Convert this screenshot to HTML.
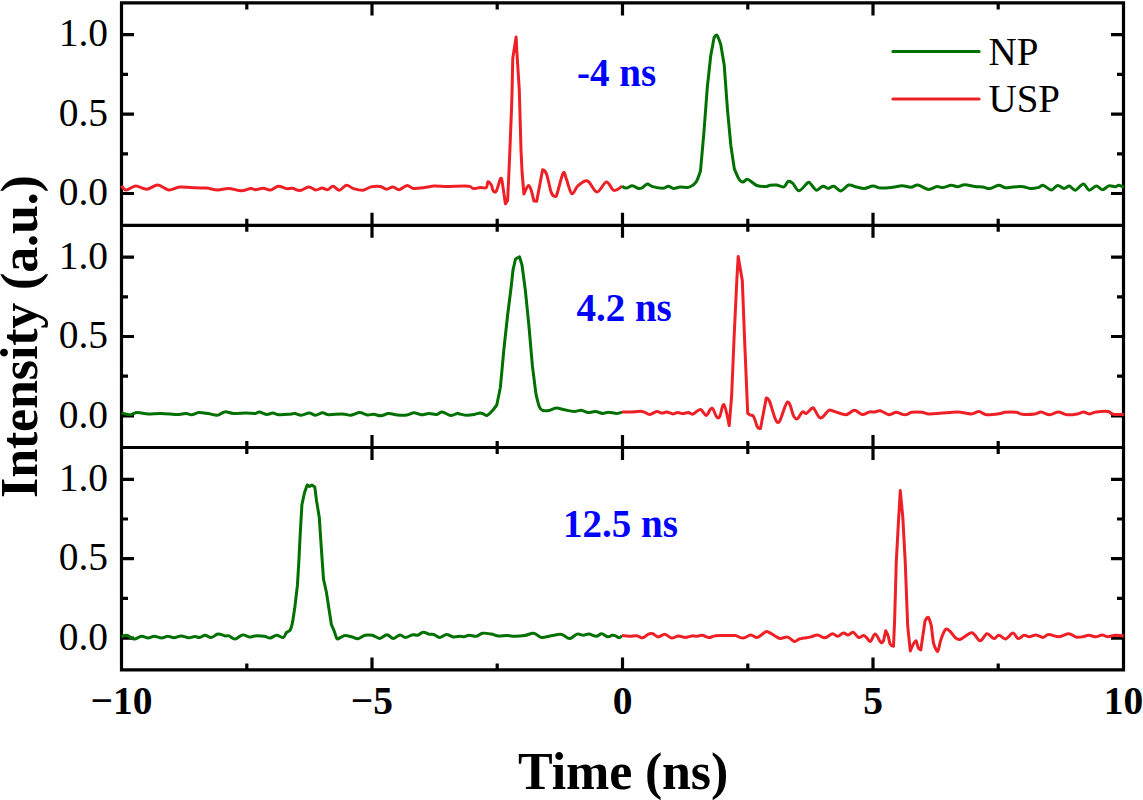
<!DOCTYPE html><html><head><meta charset="utf-8"><style>html,body{margin:0;padding:0;background:#fff;}svg{display:block;}text{font-family:"Liberation Serif",serif;}</style></head><body>
<svg width="1143" height="800" viewBox="0 0 1143 800">
<rect width="1143" height="800" fill="#fff"/>
<path d="M120.0 2.9H1125.0M120.0 225.3H1125.0M120.0 447.5H1125.0M120.0 669.9H1125.0M121.5 1.4V671.4M1123.5 1.4V671.4M121.5 2.9V15.4M121.5 225.3V212.8M121.5 225.3V237.8M121.5 447.5V435.0M121.5 447.5V460.0M121.5 669.9V657.4M246.8 2.9V9.4M246.8 225.3V218.8M246.8 225.3V231.8M246.8 447.5V441.0M246.8 447.5V454.0M246.8 669.9V663.4M372.0 2.9V15.4M372.0 225.3V212.8M372.0 225.3V237.8M372.0 447.5V435.0M372.0 447.5V460.0M372.0 669.9V657.4M497.2 2.9V9.4M497.2 225.3V218.8M497.2 225.3V231.8M497.2 447.5V441.0M497.2 447.5V454.0M497.2 669.9V663.4M622.5 2.9V15.4M622.5 225.3V212.8M622.5 225.3V237.8M622.5 447.5V435.0M622.5 447.5V460.0M622.5 669.9V657.4M747.8 2.9V9.4M747.8 225.3V218.8M747.8 225.3V231.8M747.8 447.5V441.0M747.8 447.5V454.0M747.8 669.9V663.4M873.0 2.9V15.4M873.0 225.3V212.8M873.0 225.3V237.8M873.0 447.5V435.0M873.0 447.5V460.0M873.0 669.9V657.4M998.2 2.9V9.4M998.2 225.3V218.8M998.2 225.3V231.8M998.2 447.5V441.0M998.2 447.5V454.0M998.2 669.9V663.4M1123.5 2.9V15.4M1123.5 225.3V212.8M1123.5 225.3V237.8M1123.5 447.5V435.0M1123.5 447.5V460.0M1123.5 669.9V657.4M121.5 193.5H134.0M1123.5 193.5H1111.0M121.5 153.8H128.0M1123.5 153.8H1117.0M121.5 114.1H134.0M1123.5 114.1H1111.0M121.5 74.4H128.0M1123.5 74.4H1117.0M121.5 34.7H134.0M1123.5 34.7H1111.0M121.5 415.9H134.0M1123.5 415.9H1111.0M121.5 376.2H128.0M1123.5 376.2H1117.0M121.5 336.5H134.0M1123.5 336.5H1111.0M121.5 296.8H128.0M1123.5 296.8H1117.0M121.5 257.1H134.0M1123.5 257.1H1111.0M121.5 638.1H134.0M1123.5 638.1H1111.0M121.5 598.4H128.0M1123.5 598.4H1117.0M121.5 558.7H134.0M1123.5 558.7H1111.0M121.5 519.0H128.0M1123.5 519.0H1117.0M121.5 479.3H134.0M1123.5 479.3H1111.0" stroke="#000" stroke-width="3.2" fill="none" stroke-linecap="butt"/>
<g fill="none" stroke-width="3.0" stroke-linejoin="round" stroke-linecap="butt">
<path stroke="#EE2026" d="M121.60 185.70C121.60 185.70 123.95 189.93 126.30 190.00C128.65 190.07 132.28 186.23 135.70 186.10C139.12 185.97 143.12 189.37 146.80 189.20C150.48 189.03 154.13 184.97 157.80 185.10C161.47 185.23 165.13 189.68 168.80 190.00C172.47 190.32 175.33 187.37 179.80 187.00C184.27 186.63 191.13 187.62 195.60 187.80C200.07 187.98 202.93 187.73 206.60 188.10C210.27 188.47 213.92 189.95 217.60 190.00C221.28 190.05 224.75 188.27 228.70 188.40C232.65 188.53 237.63 190.80 241.30 190.80C244.97 190.80 248.35 188.58 250.70 188.40C253.05 188.22 253.30 189.72 255.40 189.70C257.50 189.68 260.80 188.25 263.30 188.30C265.80 188.35 267.90 190.35 270.40 190.00C272.90 189.65 275.68 186.43 278.30 186.20C280.92 185.97 283.75 188.25 286.10 188.60C288.45 188.95 290.08 187.98 292.40 188.30C294.72 188.62 297.28 190.72 300.00 190.50C302.72 190.28 306.08 187.08 308.70 187.00C311.32 186.92 313.48 189.82 315.70 190.00C317.92 190.18 320.02 188.15 322.00 188.10C323.98 188.05 325.75 190.02 327.60 189.70C329.45 189.38 331.13 186.12 333.10 186.20C335.07 186.28 337.17 190.35 339.40 190.20C341.63 190.05 344.15 185.57 346.50 185.30C348.85 185.03 350.75 187.77 353.50 188.60C356.25 189.43 360.10 190.58 363.00 190.30C365.90 190.02 368.02 187.53 370.90 186.90C373.78 186.27 377.68 186.12 380.30 186.50C382.92 186.88 384.50 189.13 386.60 189.20C388.70 189.27 390.80 186.82 392.90 186.90C395.00 186.98 396.83 189.95 399.20 189.70C401.57 189.45 404.73 185.62 407.10 185.40C409.47 185.18 410.25 188.08 413.40 188.40C416.55 188.72 422.58 187.68 426.00 187.30C429.42 186.92 430.23 186.25 433.90 186.10C437.57 185.95 442.23 186.38 448.00 186.40C453.77 186.42 464.30 185.83 468.50 186.20C472.70 186.57 471.28 188.37 473.20 188.60C475.12 188.83 477.82 187.77 480.00 187.60C482.18 187.43 484.97 188.58 486.30 187.60C487.63 186.62 487.13 182.10 488.00 181.70C488.87 181.30 490.68 183.80 491.50 185.20C492.32 186.60 492.13 189.05 492.90 190.10C493.67 191.15 494.82 193.43 496.10 191.50C497.38 189.57 499.55 179.90 500.60 178.50C501.65 177.10 502.40 183.10 502.40 183.10C502.40 183.10 505.40 203.80 505.40 203.80C505.40 203.80 507.60 200.50 507.60 200.50C507.60 200.50 508.60 180.00 508.60 180.00C508.60 180.00 509.90 150.00 509.90 150.00C509.90 150.00 511.60 106.50 511.60 106.50C511.60 106.50 512.10 90.00 512.10 90.00C512.10 90.00 512.75 58.50 512.75 58.50C512.75 58.50 516.10 37.10 516.10 37.10C516.10 37.10 516.90 52.50 516.90 52.50C516.90 52.50 519.30 90.00 519.30 90.00C519.30 90.00 521.00 150.00 521.00 150.00C521.00 150.00 522.10 172.50 522.10 172.50C522.10 172.50 523.90 194.00 523.90 194.00C523.90 194.00 527.28 185.80 528.60 185.50C529.92 185.20 531.80 192.20 531.80 192.20C531.80 192.20 533.90 200.90 533.90 200.90C533.90 200.90 536.70 201.30 536.70 201.30C536.70 201.30 542.60 169.80 542.60 169.80C542.60 169.80 545.03 170.15 546.50 174.00C547.97 177.85 549.95 189.17 551.40 192.90C552.85 196.63 554.25 196.28 555.20 196.40C556.15 196.52 555.77 197.48 557.10 193.60C558.43 189.72 561.63 175.47 563.20 173.10C564.77 170.73 565.07 175.98 566.50 179.40C567.93 182.82 569.87 192.55 571.80 193.60C573.73 194.65 575.48 187.80 578.10 185.70C580.72 183.60 584.35 179.95 587.50 181.00C590.65 182.05 593.85 191.83 597.00 192.00C600.15 192.17 603.60 182.27 606.40 182.00C609.20 181.73 611.20 189.70 613.80 190.40C616.40 191.10 622.00 186.20 622.00 186.20"/>
<path stroke="#007000" d="M622.00 186.20C622.00 186.20 624.70 188.18 626.40 188.10C628.10 188.02 630.27 185.67 632.20 185.70C634.13 185.73 636.35 187.95 638.00 188.30C639.65 188.65 640.53 188.50 642.10 187.80C643.67 187.10 645.65 184.30 647.40 184.10C649.15 183.90 649.98 185.90 652.60 186.60C655.22 187.30 660.47 188.37 663.10 188.30C665.73 188.23 666.67 186.18 668.40 186.20C670.13 186.22 671.52 188.25 673.50 188.40C675.48 188.55 677.67 187.32 680.30 187.10C682.93 186.88 686.68 187.93 689.30 187.10C691.92 186.27 694.13 184.82 696.00 182.10C697.87 179.38 700.50 170.80 700.50 170.80C700.50 170.80 703.90 132.60 703.90 132.60C703.90 132.60 707.30 87.50 707.30 87.50C707.30 87.50 710.70 56.00 710.70 56.00C710.70 56.00 714.00 38.00 714.00 38.00C714.00 38.00 715.87 34.17 717.00 35.30C718.13 36.43 720.80 44.80 720.80 44.80C720.80 44.80 724.20 65.00 724.20 65.00C724.20 65.00 727.50 110.00 727.50 110.00C727.50 110.00 730.90 146.00 730.90 146.00C730.90 146.00 734.30 168.60 734.30 168.60C734.30 168.60 737.37 176.45 738.80 178.70C740.23 180.95 741.40 181.98 742.90 182.10C744.40 182.22 745.48 178.83 747.80 179.40C750.12 179.97 753.80 184.30 756.80 185.50C759.80 186.70 763.60 186.63 765.80 186.60C768.00 186.57 768.25 185.57 770.00 185.30C771.75 185.03 773.98 184.73 776.30 185.00C778.62 185.27 781.93 187.48 783.90 186.90C785.87 186.32 786.62 182.08 788.10 181.50C789.58 180.92 790.97 181.85 792.80 183.40C794.63 184.95 796.60 190.93 799.10 190.80C801.60 190.67 805.83 183.70 807.80 182.60C809.77 181.50 809.45 182.93 810.90 184.20C812.35 185.47 814.52 189.87 816.50 190.20C818.48 190.53 820.83 186.50 822.80 186.20C824.77 185.90 826.47 188.40 828.30 188.40C830.13 188.40 831.70 185.78 833.80 186.20C835.90 186.62 838.42 191.10 840.90 190.90C843.38 190.70 846.08 185.65 848.70 185.00C851.32 184.35 853.97 186.43 856.60 187.00C859.23 187.57 861.75 188.55 864.50 188.40C867.25 188.25 870.35 186.15 873.10 186.10C875.85 186.05 877.72 187.92 881.00 188.10C884.28 188.28 889.25 187.60 892.80 187.20C896.35 186.80 899.28 185.68 902.30 185.70C905.32 185.72 908.28 187.42 910.90 187.30C913.52 187.18 915.10 184.65 918.00 185.00C920.90 185.35 925.15 189.15 928.30 189.40C931.45 189.65 934.42 186.80 936.90 186.50C939.38 186.20 940.80 187.80 943.20 187.60C945.60 187.40 948.90 185.45 951.30 185.30C953.70 185.15 955.37 186.78 957.60 186.70C959.83 186.62 961.82 184.83 964.70 184.80C967.58 184.77 971.88 186.13 974.90 186.50C977.92 186.87 980.30 186.65 982.80 187.00C985.30 187.35 987.28 188.88 989.90 188.60C992.52 188.32 995.88 185.43 998.50 185.30C1001.12 185.17 1003.23 187.53 1005.60 187.80C1007.97 188.07 1009.80 187.08 1012.70 186.90C1015.60 186.72 1020.12 186.45 1023.00 186.70C1025.88 186.95 1027.52 188.25 1030.00 188.40C1032.48 188.55 1035.67 188.10 1037.90 187.60C1040.13 187.10 1041.17 185.00 1043.40 185.40C1045.63 185.80 1048.93 190.00 1051.30 190.00C1053.67 190.00 1055.50 185.67 1057.60 185.40C1059.70 185.13 1061.93 188.28 1063.90 188.40C1065.87 188.52 1067.48 185.80 1069.40 186.10C1071.32 186.40 1073.08 190.57 1075.40 190.20C1077.72 189.83 1081.02 183.90 1083.30 183.90C1085.58 183.90 1086.95 189.83 1089.10 190.20C1091.25 190.57 1093.97 186.18 1096.20 186.10C1098.43 186.02 1100.40 189.73 1102.50 189.70C1104.60 189.67 1106.70 186.40 1108.80 185.90C1110.90 185.40 1113.40 186.80 1115.10 186.70C1116.80 186.60 1117.55 185.15 1119.00 185.30C1120.45 185.45 1123.80 187.60 1123.80 187.60"/>
<path stroke="#007000" d="M121.60 412.60C121.60 412.60 127.58 414.70 130.20 414.70C132.82 414.70 134.28 412.73 137.30 412.60C140.32 412.47 144.37 413.77 148.30 413.90C152.23 414.03 155.90 413.30 160.90 413.40C165.90 413.50 174.10 414.50 178.30 414.50C182.50 414.50 183.87 413.37 186.10 413.40C188.33 413.43 189.60 414.83 191.70 414.70C193.80 414.57 195.95 412.78 198.70 412.60C201.45 412.42 205.05 413.17 208.20 413.60C211.35 414.03 214.85 415.48 217.60 415.20C220.35 414.92 222.07 412.20 224.70 411.90C227.33 411.60 229.85 413.20 233.40 413.40C236.95 413.60 242.33 413.10 246.00 413.10C249.67 413.10 253.17 413.60 255.40 413.40C257.63 413.20 257.55 411.73 259.40 411.90C261.25 412.07 264.27 414.20 266.50 414.40C268.73 414.60 270.70 413.05 272.80 413.10C274.90 413.15 276.22 414.52 279.10 414.70C281.98 414.88 287.45 414.38 290.10 414.20C292.75 414.02 293.13 413.43 295.00 413.60C296.87 413.77 298.93 415.28 301.30 415.20C303.67 415.12 306.83 413.10 309.20 413.10C311.57 413.10 313.27 415.25 315.50 415.20C317.73 415.15 320.37 412.88 322.60 412.80C324.83 412.72 325.63 414.52 328.90 414.70C332.17 414.88 338.53 413.82 342.20 413.90C345.87 413.98 348.00 415.42 350.90 415.20C353.80 414.98 356.85 412.63 359.60 412.60C362.35 412.57 365.05 414.73 367.40 415.00C369.75 415.27 371.47 414.07 373.70 414.20C375.93 414.33 378.30 415.90 380.80 415.80C383.30 415.70 385.93 413.73 388.70 413.60C391.47 413.47 394.38 414.77 397.40 415.00C400.42 415.23 404.05 415.37 406.80 415.00C409.55 414.63 411.53 412.85 413.90 412.80C416.27 412.75 418.50 414.57 421.00 414.70C423.50 414.83 426.28 413.65 428.90 413.60C431.52 413.55 434.48 414.67 436.70 414.40C438.92 414.13 439.83 411.82 442.20 412.00C444.57 412.18 448.40 415.27 450.90 415.50C453.40 415.73 455.68 413.63 457.20 413.40C458.72 413.17 458.35 413.78 460.00 414.10C461.65 414.42 464.73 415.23 467.10 415.30C469.47 415.37 472.02 414.90 474.20 414.50C476.38 414.10 478.62 412.97 480.20 412.90C481.78 412.83 482.52 413.70 483.70 414.10C484.88 414.50 485.90 415.82 487.30 415.30C488.70 414.78 490.52 412.72 492.10 411.00C493.68 409.28 496.80 405.00 496.80 405.00C496.80 405.00 500.40 387.20 500.40 387.20C500.40 387.20 503.90 349.20 503.90 349.20C503.90 349.20 507.50 316.00 507.50 316.00C507.50 316.00 511.10 287.50 511.10 287.50C511.10 287.50 513.00 270.00 513.00 270.00C513.00 270.00 515.50 259.00 515.50 259.00C515.50 259.00 519.50 256.70 519.50 256.70C519.50 256.70 522.00 265.00 522.00 265.00C522.00 265.00 525.30 289.90 525.30 289.90C525.30 289.90 528.90 325.50 528.90 325.50C528.90 325.50 532.40 365.90 532.40 365.90C532.40 365.90 536.00 394.40 536.00 394.40C536.00 394.40 538.42 404.72 539.60 407.40C540.78 410.08 541.52 409.98 543.10 410.50C544.68 411.02 546.92 410.90 549.10 410.50C551.28 410.10 553.63 408.22 556.20 408.10C558.77 407.98 561.53 409.23 564.50 409.80C567.47 410.37 571.23 411.42 574.00 411.50C576.77 411.58 578.73 410.12 581.10 410.30C583.47 410.48 585.82 412.40 588.20 412.60C590.58 412.80 593.02 411.37 595.40 411.50C597.78 411.63 600.33 413.28 602.50 413.40C604.67 413.52 606.03 412.20 608.40 412.20C610.77 412.20 614.43 413.43 616.70 413.40C618.97 413.37 622.00 412.00 622.00 412.00"/>
<path stroke="#EE2026" d="M622.00 412.00C622.00 412.00 627.50 412.12 630.50 412.00C633.50 411.88 637.73 411.30 640.00 411.30C642.27 411.30 642.45 411.48 644.10 412.00C645.75 412.52 647.80 414.48 649.90 414.40C652.00 414.32 654.68 411.72 656.70 411.50C658.72 411.28 660.33 413.02 662.00 413.10C663.67 413.18 664.87 411.87 666.70 412.00C668.53 412.13 671.17 413.80 673.00 413.90C674.83 414.00 676.03 412.65 677.70 412.60C679.37 412.55 681.25 413.63 683.00 413.60C684.75 413.57 686.53 412.32 688.20 412.40C689.87 412.48 690.98 414.60 693.00 414.10C695.02 413.60 698.12 409.18 700.30 409.40C702.48 409.62 704.43 415.40 706.10 415.40C707.77 415.40 709.17 410.48 710.30 409.40C711.43 408.32 711.85 407.67 712.90 408.90C713.95 410.13 715.47 415.48 716.60 416.80C717.73 418.12 718.48 418.82 719.70 416.80C720.92 414.78 722.32 403.23 723.90 404.70C725.48 406.17 729.20 425.60 729.20 425.60C729.20 425.60 731.60 396.70 731.60 396.70C731.60 396.70 734.00 339.80 734.00 339.80C734.00 339.80 736.80 280.50 736.80 280.50C736.80 280.50 738.20 256.40 738.20 256.40C738.20 256.40 742.30 280.50 742.30 280.50C742.30 280.50 744.60 339.80 744.60 339.80C744.60 339.80 747.70 413.20 747.70 413.20C747.70 413.20 749.63 414.70 750.50 415.10C751.37 415.50 752.15 414.78 752.90 415.60C753.65 416.42 754.20 418.02 755.00 420.00C755.80 421.98 756.78 426.08 757.70 427.50C758.62 428.92 760.50 428.50 760.50 428.50C760.50 428.50 766.25 398.00 766.25 398.00C766.25 398.00 767.54 397.17 769.50 401.25C771.46 405.33 775.00 422.38 778.00 422.50C781.00 422.62 784.88 403.04 787.50 402.00C790.12 400.96 792.08 413.46 793.75 416.25C795.42 419.04 796.06 419.46 797.50 418.75C798.94 418.04 800.93 412.89 802.40 412.00C803.87 411.11 804.73 414.00 806.30 413.40C807.87 412.80 810.48 409.15 811.80 408.40C813.12 407.65 812.75 407.28 814.20 408.90C815.65 410.52 818.15 417.80 820.50 418.10C822.85 418.40 826.33 411.93 828.30 410.70C830.27 409.47 829.40 410.03 832.30 410.70C835.20 411.37 842.03 414.77 845.70 414.70C849.37 414.63 851.55 410.35 854.30 410.30C857.05 410.25 859.70 414.12 862.20 414.40C864.70 414.68 867.20 412.42 869.30 412.00C871.40 411.58 872.97 412.12 874.80 411.90C876.63 411.68 877.93 410.23 880.30 410.70C882.67 411.17 886.37 414.43 889.00 414.70C891.63 414.97 893.87 412.35 896.10 412.30C898.33 412.25 900.57 414.05 902.40 414.40C904.23 414.75 905.53 414.75 907.10 414.40C908.67 414.05 909.32 412.65 911.80 412.30C914.28 411.95 919.12 412.03 922.00 412.30C924.88 412.57 925.82 413.77 929.10 413.90C932.38 414.03 936.95 413.42 941.70 413.10C946.45 412.78 952.72 411.87 957.60 412.00C962.48 412.13 967.45 413.98 971.00 413.90C974.55 413.82 976.28 411.37 978.90 411.50C981.52 411.63 983.17 414.35 986.70 414.70C990.23 415.05 997.08 414.00 1000.10 413.60C1003.12 413.20 1002.17 412.52 1004.80 412.30C1007.43 412.08 1013.00 411.98 1015.90 412.30C1018.80 412.62 1019.05 413.93 1022.20 414.20C1025.35 414.47 1031.65 414.27 1034.80 413.90C1037.95 413.53 1038.62 411.87 1041.10 412.00C1043.58 412.13 1046.82 414.70 1049.70 414.70C1052.58 414.70 1055.52 412.00 1058.40 412.00C1061.28 412.00 1063.85 414.38 1067.00 414.70C1070.15 415.02 1074.53 414.35 1077.30 413.90C1080.07 413.45 1081.63 412.00 1083.60 412.00C1085.57 412.00 1087.00 413.90 1089.10 413.90C1091.20 413.90 1093.05 412.40 1096.20 412.00C1099.35 411.60 1105.20 411.13 1108.00 411.50C1110.80 411.87 1110.37 413.70 1113.00 414.20C1115.63 414.70 1123.80 414.50 1123.80 414.50"/>
<path stroke="#007000" d="M121.60 637.10C121.60 637.10 124.62 634.98 126.70 635.30C128.78 635.62 131.65 638.85 134.10 639.00C136.55 639.15 139.05 636.37 141.40 636.20C143.75 636.03 146.05 637.98 148.20 638.00C150.35 638.02 152.07 636.30 154.30 636.30C156.53 636.30 159.35 638.02 161.60 638.00C163.85 637.98 165.75 636.23 167.80 636.20C169.85 636.17 171.67 637.85 173.90 637.80C176.13 637.75 178.75 635.90 181.20 635.90C183.65 635.90 186.35 637.70 188.60 637.80C190.85 637.90 192.87 636.55 194.70 636.50C196.53 636.45 197.87 637.70 199.60 637.50C201.33 637.30 203.15 635.30 205.10 635.30C207.05 635.30 209.15 637.70 211.30 637.50C213.45 637.30 215.67 634.37 218.00 634.10C220.33 633.83 223.47 635.60 225.30 635.90C227.13 636.20 227.37 635.38 229.00 635.90C230.63 636.42 232.85 639.17 235.10 639.00C237.35 638.83 240.05 635.22 242.50 634.90C244.95 634.58 247.75 636.93 249.80 637.10C251.85 637.27 252.38 636.03 254.80 635.90C257.22 635.77 261.73 635.95 264.30 636.30C266.87 636.65 268.15 638.18 270.20 638.00C272.25 637.82 274.43 635.28 276.60 635.20C278.77 635.12 281.57 637.93 283.20 637.50C284.83 637.07 285.23 633.85 286.40 632.60C287.57 631.35 289.15 631.83 290.20 630.00C291.25 628.17 292.70 621.60 292.70 621.60C292.70 621.60 294.90 606.70 294.90 606.70C294.90 606.70 297.40 585.40 297.40 585.40C297.40 585.40 298.70 564.20 298.70 564.20C298.70 564.20 300.20 534.50 300.20 534.50C300.20 534.50 301.90 504.70 301.90 504.70C301.90 504.70 304.40 493.10 304.40 493.10C304.40 493.10 307.20 485.00 307.20 485.00C307.20 485.00 309.50 486.50 309.50 486.50C309.50 486.50 311.80 485.00 311.80 485.00C311.80 485.00 314.80 487.00 314.80 487.00C314.80 487.00 316.50 500.50 316.50 500.50C316.50 500.50 319.30 517.50 319.30 517.50C319.30 517.50 321.40 549.30 321.40 549.30C321.40 549.30 323.50 579.10 323.50 579.10C323.50 579.10 326.30 591.80 326.30 591.80C326.30 591.80 329.30 610.90 329.30 610.90C329.30 610.90 331.40 624.70 331.40 624.70C331.40 624.70 333.28 628.78 334.20 631.10C335.12 633.42 335.85 637.53 336.90 638.60C337.95 639.67 339.15 638.03 340.50 637.50C341.85 636.97 343.05 635.48 345.00 635.40C346.95 635.32 350.02 636.45 352.20 637.00C354.38 637.55 355.97 638.98 358.10 638.70C360.23 638.42 362.63 635.87 365.00 635.30C367.37 634.73 369.85 634.78 372.30 635.30C374.75 635.82 377.25 638.50 379.70 638.40C382.15 638.30 384.75 634.67 387.00 634.70C389.25 634.73 391.05 638.57 393.20 638.60C395.35 638.63 397.87 635.08 399.90 634.90C401.93 634.72 403.25 637.53 405.40 637.50C407.55 637.47 410.75 635.07 412.80 634.70C414.85 634.33 415.97 635.72 417.70 635.30C419.43 634.88 421.37 632.40 423.20 632.20C425.03 632.00 426.97 633.72 428.70 634.10C430.43 634.48 431.77 633.93 433.60 634.50C435.43 635.07 437.55 637.50 439.70 637.50C441.85 637.50 444.25 634.60 446.50 634.50C448.75 634.40 450.87 636.60 453.20 636.90C455.53 637.20 458.67 636.32 460.50 636.30C462.33 636.28 462.77 636.97 464.20 636.80C465.63 636.63 467.05 635.38 469.10 635.30C471.15 635.22 474.25 636.65 476.50 636.30C478.75 635.95 480.15 633.57 482.60 633.20C485.05 632.83 488.65 633.65 491.20 634.10C493.75 634.55 495.22 635.65 497.90 635.90C500.58 636.15 504.50 635.53 507.30 635.60C510.10 635.67 511.83 636.30 514.70 636.30C517.57 636.30 521.53 636.12 524.50 635.60C527.47 635.08 530.57 633.42 532.50 633.20C534.43 632.98 534.58 633.58 536.10 634.30C537.62 635.02 539.05 637.27 541.60 637.50C544.15 637.73 548.33 636.23 551.40 635.70C554.47 635.17 557.95 634.37 560.00 634.30C562.05 634.23 562.07 634.58 563.70 635.30C565.33 636.02 567.55 638.80 569.80 638.60C572.05 638.40 574.95 634.65 577.20 634.10C579.45 633.55 581.37 635.30 583.30 635.30C585.23 635.30 586.65 633.93 588.80 634.10C590.95 634.27 594.05 636.35 596.20 636.30C598.35 636.25 599.77 633.72 601.70 633.80C603.63 633.88 606.07 636.55 607.80 636.80C609.53 637.05 610.88 635.48 612.10 635.30C613.32 635.12 613.88 635.28 615.10 635.70C616.32 636.12 618.25 637.83 619.40 637.80C620.55 637.77 622.00 635.50 622.00 635.50"/>
<path stroke="#EE2026" d="M622.00 635.50C622.00 635.50 627.35 636.17 629.80 636.20C632.25 636.23 634.52 635.43 636.70 635.70C638.88 635.97 640.95 638.07 642.90 637.80C644.85 637.53 646.77 634.78 648.40 634.10C650.03 633.42 651.07 633.23 652.70 633.70C654.33 634.17 656.17 636.80 658.20 636.90C660.23 637.00 662.67 634.10 664.90 634.30C667.13 634.50 669.35 637.83 671.60 638.10C673.85 638.37 676.15 636.00 678.40 635.90C680.65 635.80 682.85 637.50 685.10 637.50C687.35 637.50 689.95 636.10 691.90 635.90C693.85 635.70 695.07 636.40 696.80 636.30C698.53 636.20 700.27 635.10 702.30 635.30C704.33 635.50 706.77 637.43 709.00 637.50C711.23 637.57 712.53 636.02 715.70 635.70C718.87 635.38 724.73 635.62 728.00 635.60C731.27 635.58 732.75 635.18 735.30 635.60C737.85 636.02 740.73 638.22 743.30 638.10C745.87 637.98 748.35 635.02 750.70 634.90C753.05 634.78 754.93 637.90 757.40 637.40C759.87 636.90 763.53 632.72 765.50 631.90C767.47 631.08 767.67 631.87 769.20 632.50C770.73 633.13 772.87 634.72 774.70 635.70C776.53 636.68 778.05 638.17 780.20 638.40C782.35 638.63 785.25 636.60 787.60 637.10C789.95 637.60 792.37 641.08 794.30 641.40C796.23 641.72 797.57 639.57 799.20 639.00C800.83 638.43 802.27 638.32 804.10 638.00C805.93 637.68 807.95 637.58 810.20 637.10C812.45 636.62 815.15 634.98 817.60 635.10C820.05 635.22 822.45 638.02 824.90 637.80C827.35 637.58 830.15 634.05 832.30 633.80C834.45 633.55 835.97 636.45 837.80 636.30C839.63 636.15 841.57 633.10 843.30 632.90C845.03 632.70 846.57 635.22 848.20 635.10C849.83 634.98 851.37 631.80 853.10 632.20C854.83 632.60 856.87 636.93 858.60 637.50C860.33 638.07 862.13 635.55 863.50 635.60C864.87 635.65 865.65 636.82 866.80 637.80C867.95 638.78 869.00 642.12 870.40 641.50C871.80 640.88 873.45 633.93 875.20 634.10C876.95 634.27 879.50 641.45 880.90 642.50C882.30 643.55 883.60 640.40 883.60 640.40C883.60 640.40 885.70 630.70 885.70 630.70C885.70 630.70 887.35 633.47 888.10 635.70C888.85 637.93 889.30 642.35 890.20 644.10C891.10 645.85 893.50 646.20 893.50 646.20C893.50 646.20 894.60 621.00 894.60 621.00C894.60 621.00 896.30 561.30 896.30 561.30C896.30 561.30 898.70 517.40 898.70 517.40C898.70 517.40 900.30 490.60 900.30 490.60C900.30 490.60 902.80 517.40 902.80 517.40C902.80 517.40 905.20 561.30 905.20 561.30C905.20 561.30 907.70 626.20 907.70 626.20C907.70 626.20 910.30 650.90 910.30 650.90C910.30 650.90 914.28 641.42 915.60 640.90C916.92 640.38 917.33 646.30 918.20 647.80C919.07 649.30 920.80 649.90 920.80 649.90C920.80 649.90 925.00 621.00 925.00 621.00C925.00 621.00 927.15 616.52 928.20 617.30C929.25 618.08 931.30 625.70 931.30 625.70C931.30 625.70 933.40 643.00 933.40 643.00C933.40 643.00 936.37 651.92 937.60 651.40C938.83 650.88 939.48 643.57 940.80 639.90C942.12 636.23 943.93 630.80 945.50 629.40C947.07 628.00 948.53 630.10 950.20 631.50C951.87 632.90 953.83 636.50 955.50 637.80C957.17 639.10 957.68 640.12 960.20 639.30C962.72 638.48 968.25 633.72 970.60 632.90C972.95 632.08 972.68 633.08 974.30 634.40C975.92 635.72 978.18 640.92 980.30 640.80C982.42 640.68 984.77 634.07 987.00 633.70C989.23 633.33 991.72 638.35 993.70 638.60C995.68 638.85 996.92 635.15 998.90 635.20C1000.88 635.25 1003.25 639.25 1005.60 638.90C1007.95 638.55 1010.90 633.15 1013.00 633.10C1015.10 633.05 1016.33 638.25 1018.20 638.60C1020.07 638.95 1022.33 635.50 1024.20 635.20C1026.07 634.90 1027.42 636.85 1029.40 636.80C1031.38 636.75 1033.87 634.80 1036.10 634.90C1038.33 635.00 1040.70 637.45 1042.80 637.40C1044.90 637.35 1045.98 634.72 1048.70 634.60C1051.42 634.48 1055.75 636.83 1059.10 636.70C1062.45 636.57 1065.95 633.73 1068.80 633.80C1071.65 633.87 1073.85 636.62 1076.20 637.10C1078.55 637.58 1080.78 637.02 1082.90 636.70C1085.02 636.38 1086.78 635.18 1088.90 635.20C1091.02 635.22 1093.38 636.85 1095.60 636.80C1097.82 636.75 1100.22 634.92 1102.20 634.90C1104.18 634.88 1105.27 636.65 1107.50 636.70C1109.73 636.75 1112.88 635.30 1115.60 635.20C1118.32 635.10 1123.80 636.10 1123.80 636.10"/>
</g>
<text x="108.0" y="46.3" font-size="39.5" text-anchor="end">1.0</text>
<text x="108.0" y="125.7" font-size="39.5" text-anchor="end">0.5</text>
<text x="108.0" y="205.1" font-size="39.5" text-anchor="end">0.0</text>
<text x="108.0" y="268.7" font-size="39.5" text-anchor="end">1.0</text>
<text x="108.0" y="348.1" font-size="39.5" text-anchor="end">0.5</text>
<text x="108.0" y="427.5" font-size="39.5" text-anchor="end">0.0</text>
<text x="108.0" y="490.9" font-size="39.5" text-anchor="end">1.0</text>
<text x="108.0" y="570.3" font-size="39.5" text-anchor="end">0.5</text>
<text x="108.0" y="649.7" font-size="39.5" text-anchor="end">0.0</text>
<text x="121.5" y="714.0" font-size="39.5" font-weight="bold" text-anchor="middle">−10</text>
<text x="372.0" y="714.0" font-size="39.5" font-weight="bold" text-anchor="middle">−5</text>
<text x="622.5" y="714.0" font-size="39.5" font-weight="bold" text-anchor="middle">0</text>
<text x="873.0" y="714.0" font-size="39.5" font-weight="bold" text-anchor="middle">5</text>
<text x="1123.5" y="714.0" font-size="39.5" font-weight="bold" text-anchor="middle">10</text>
<text x="623.1" y="789.0" font-size="52" font-weight="bold" letter-spacing="-0.15" text-anchor="middle">Time (ns)</text>
<text transform="translate(36.7,336.6) rotate(-90)" x="0" y="0" font-size="52" font-weight="bold" letter-spacing="-0.15" text-anchor="middle">Intensity (a.u.)</text>
<text x="577.0" y="86.0" font-size="39" font-weight="bold" fill="#0000FF">-4 ns</text>
<text x="576.4" y="320.7" font-size="39" font-weight="bold" fill="#0000FF">4.2 ns</text>
<text x="563.0" y="537.1" font-size="39" font-weight="bold" fill="#0000FF">12.5 ns</text>
<line x1="892.9" y1="51.4" x2="979.1" y2="51.4" stroke="#007000" stroke-width="3" stroke-linecap="round"/>
<line x1="892.9" y1="98.9" x2="979.1" y2="98.9" stroke="#EE2026" stroke-width="3" stroke-linecap="round"/>
<text x="988.5" y="64.9" font-size="39">NP</text>
<text x="988.5" y="112.3" font-size="39">USP</text>
</svg></body></html>
